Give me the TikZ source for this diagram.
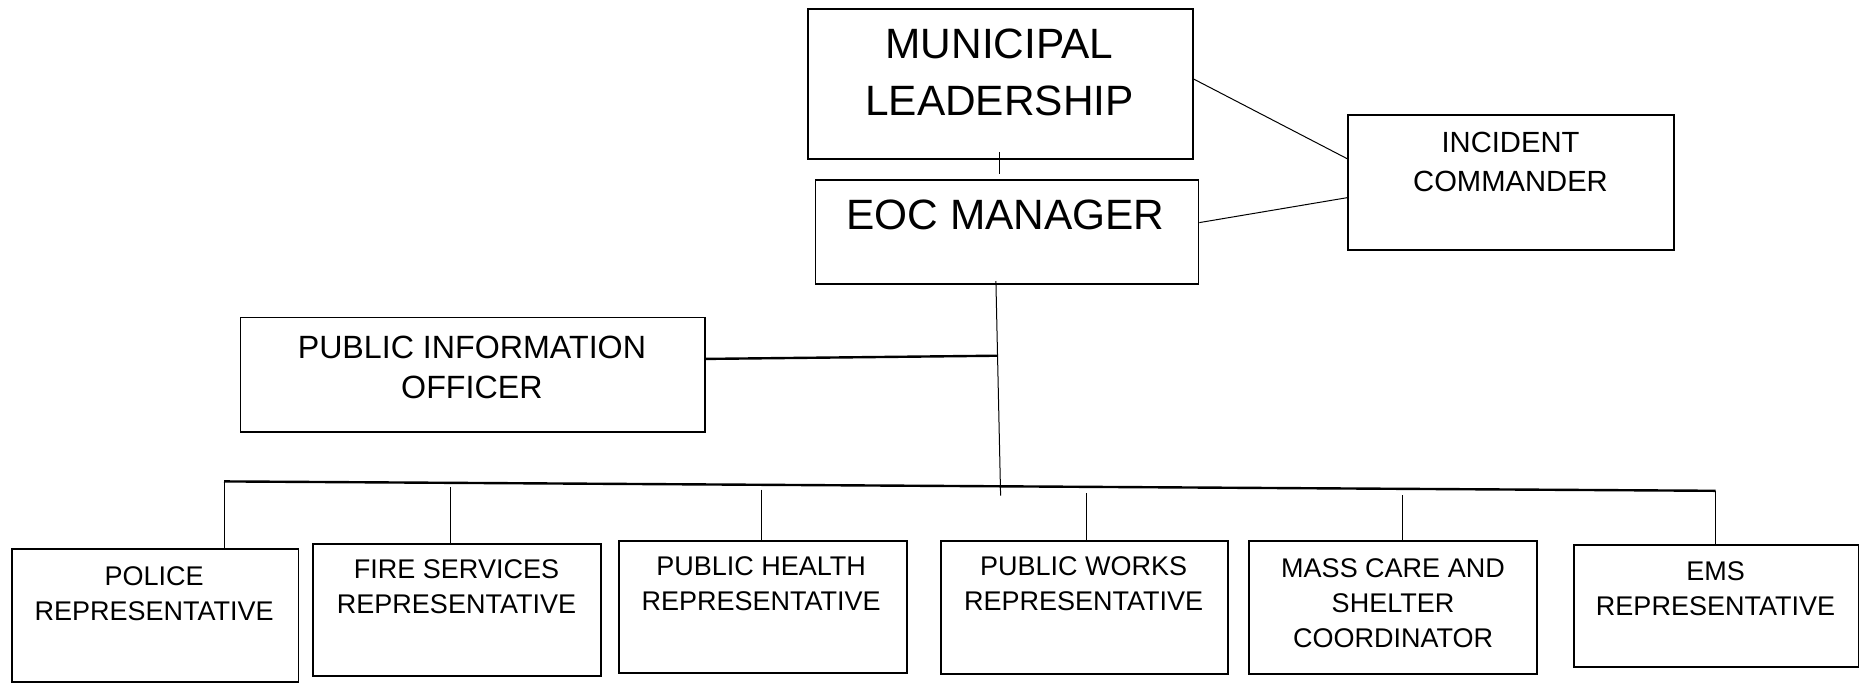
\documentclass[tikz,border=0pt]{standalone}
\usepackage{fontspec}
\setmainfont{Liberation Sans}
\begin{document}
\begin{tikzpicture}[x=0.5pt,y=-0.5pt,
  box/.style={draw, line width=0.9pt, inner sep=0pt, anchor=north west},
  lbl/.style={align=center, inner sep=0pt},
  big/.style={font=\fontsize{21.2}{28.5}\selectfont},
  mid/.style={font=\fontsize{14.6}{19.6}\selectfont},
  pio/.style={font=\fontsize{16.1}{20}\selectfont},
  small/.style={font=\fontsize{13.5}{17.3}\selectfont},
  conn/.style={line width=0.5pt},
  heavy/.style={line width=1.2pt}]
\useasboundingbox (0,0) rectangle (1859,682);

% boxes
\node[box, minimum width=192.25pt, minimum height=74.85pt] (mun) at (807.4,8.3) {};
\node[box, minimum width=191.5pt, minimum height=52pt] (eoc) at (814.5,179) {};
\node[box, minimum width=163pt, minimum height=67.5pt] (inc) at (1347,114) {};
\node[box, minimum width=232.35pt, minimum height=57.2pt] (pio) at (239.5,316.6) {};
\node[box, minimum width=143.45pt, minimum height=66.5pt] (police) at (10.7,548) {};
\node[box, minimum width=144pt, minimum height=66pt] (fire) at (311.8,543) {};
\node[box, minimum width=144pt, minimum height=66pt] (health) at (617.7,540) {};
\node[box, minimum width=143.5pt, minimum height=66.5pt] (works) at (940.2,540) {};
\node[box, minimum width=144pt, minimum height=66.5pt] (mass) at (1248.4,540) {};
\node[box, minimum width=142.35pt, minimum height=61pt] (ems) at (1573.3,544) {};

% texts
\node[lbl, big] (munT) at (999.5,72.3) {MUNICIPAL\\LEADERSHIP};
\node[lbl, big] (eocT) at (1005.4,214.6) {EOC MANAGER};
\node[lbl, mid] (incT) at (1510.5,161.8) {INCIDENT\\COMMANDER};
\node[lbl, pio] (pioT) at (471.9,367.5) {PUBLIC INFORMATION\\OFFICER};
\node[lbl, small] (policeT) at (154.1,593.4) {POLICE\\REPRESENTATIVE};
\node[lbl, small] (fireT) at (456.5,586.9) {FIRE SERVICES\\REPRESENTATIVE};
\node[lbl, small] (healthT) at (761.2,583.9) {PUBLIC HEALTH\\REPRESENTATIVE};
\node[lbl, small] (worksT) at (1083.6,583.9) {PUBLIC WORKS\\REPRESENTATIVE};
\node[lbl, small, font=\fontsize{13.5}{17.5}\selectfont] (massT) at (1393,602.9) {MASS CARE AND\\SHELTER\\COORDINATOR};
\node[lbl, small] (emsT) at (1715.5,588.6) {EMS\\REPRESENTATIVE};

% connector coordinates
\coordinate (mlA) at (999.5,151.8);
\coordinate (mlB) at (999.5,174.3);
\coordinate (eocB) at (995.9,281);
\coordinate (hub) at (1000.6,495.6);
\coordinate (pioJ) at (997.5,355.7);
\coordinate (busL) at (224,481.4);
\coordinate (busR) at (1715.5,490.8);
\coordinate (fireS) at (450.5,487);
\coordinate (healthS) at (761.2,489.6);
\coordinate (worksS) at (1086,493.3);
\coordinate (massS) at (1402.6,495);

% connectors
\draw[conn] (mlA) -- (mlB);
\draw[conn] ([yshift=2.5pt]mun.east) -- ([yshift=11.9pt]inc.west);
\draw[conn] ([yshift=4.65pt]eoc.east) -- ([yshift=-7.65pt]inc.west);
\draw[conn] (eocB) -- (hub);
\draw[heavy] ([yshift=7.9pt]pio.east) -- (pioJ);
\draw[heavy] (busL) -- (busR);
\draw[conn] (busL) -- (busL |- police.north);
\draw[conn] (busR) -- (busR |- ems.north);
\draw[conn] (fireS) -- (fireS |- fire.north);
\draw[conn] (healthS) -- (healthS |- health.north);
\draw[conn] (worksS) -- (worksS |- works.north);
\draw[conn] (massS) -- (massS |- mass.north);
\end{tikzpicture}
\end{document}
